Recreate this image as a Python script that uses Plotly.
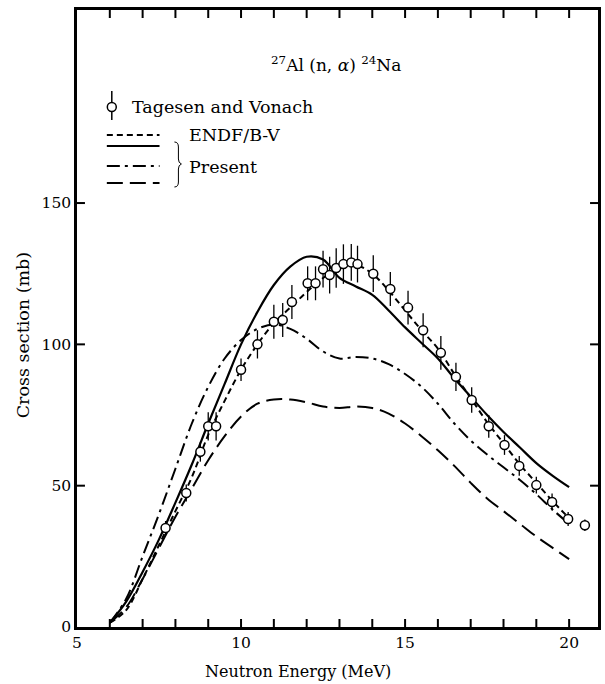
import plotly.graph_objects as go

# ---------------- data ----------------
energy_grid = [6.0, 6.5, 7.0, 7.5, 8.0, 8.5, 9.0, 9.5, 10.0, 10.5, 11.0, 11.5, 12.0, 12.5,
               13.0, 13.5, 14.0, 14.5, 15.0, 15.5, 16.0, 16.5, 17.0, 17.5, 18.0, 18.5,
               19.0, 19.5, 20.0]
endf_dashed = [1.5, 6, 17, 29, 41, 53, 68, 80, 91, 100, 107.5, 113, 118.5, 123.5,
               127, 128, 125, 119, 112, 105, 98.5, 89.5, 81, 72.5, 65, 57.5, 51, 44.5, 38.5]
present_solid = [1.5, 9, 19.5, 31, 44, 57.5, 72, 86, 100, 111.5, 121, 127.5, 131, 130,
                 123.5, 120.5, 117.5, 112, 106, 100.5, 95, 88, 81.5, 75, 69, 63.5, 58, 53.5, 49.5]
present_dashdot = [1.5, 10, 25, 40, 56, 72, 85, 95, 101.5, 105.5, 107, 105.5, 102, 97.5,
                   95, 95.5, 95, 93, 89.5, 85, 79, 72, 66, 61, 56.5, 52, 47, 41.5, 36.5]
present_longdash = [1.5, 7, 17, 28, 39, 49, 59, 67.5, 74.5, 79, 80.5, 80.5, 79.5, 78,
                    77.5, 78, 77.5, 75.5, 72, 67.5, 62.5, 57, 51, 45.5, 41, 36.5, 32, 28, 24]

exp_energy = [7.70, 8.33, 8.76, 9.00, 9.24, 10.00, 10.50, 11.00, 11.27, 11.55, 12.03, 12.27,
              12.50, 12.70, 12.90, 13.12, 13.36, 13.55, 14.03, 14.55, 15.09, 15.55, 16.09,
              16.55, 17.03, 17.55, 18.03, 18.48, 19.00, 19.48, 19.97, 20.48]
exp_sigma = [35, 47.4, 62, 71, 71, 91, 100, 108, 108.6, 115, 121.6, 121.6, 126.6, 124.5,
             127, 128.4, 129, 128.4, 125, 119.6, 113, 105, 97, 88.5, 80.3, 71, 64.4, 57,
             50.2, 44.2, 38.2, 36]
exp_error = [2.5, 3, 3.5, 5, 5, 4, 5, 6, 6, 6, 6, 6, 6.5, 6.5, 7, 7, 6.5, 6.5, 6.5, 6, 6,
             6, 6, 5, 4.5, 4, 3.5, 3.5, 3, 3, 2.5, 2]

x_tick_marks = list(range(6, 21))
y_tick_vals = [0, 50, 100, 150]

FONT = "DejaVu Serif"

# ---------------- figure ----------------
W, H = 605, 684
L, R, T, B = 77, 601, 10, 627


def px(x):
    return (x - L) / (R - L)


def py(y):
    return (B - y) / (B - T)


fig = go.Figure()

line_w = 2.0
fig.add_trace(go.Scatter(x=energy_grid, y=present_longdash, mode="lines",
                         line=dict(color="black", width=line_w, dash="16px,7px", shape="spline"),
                         showlegend=False))
fig.add_trace(go.Scatter(x=energy_grid, y=present_dashdot, mode="lines",
                         line=dict(color="black", width=line_w, dash="13px,5px,3px,5px", shape="spline"),
                         showlegend=False))
fig.add_trace(go.Scatter(x=energy_grid, y=present_solid, mode="lines",
                         line=dict(color="black", width=2.2, shape="spline"),
                         showlegend=False))
fig.add_trace(go.Scatter(x=energy_grid, y=endf_dashed, mode="lines",
                         line=dict(color="black", width=line_w, dash="6px,4px", shape="spline"),
                         showlegend=False))
fig.add_trace(go.Scatter(x=exp_energy, y=exp_sigma, mode="markers",
                         marker=dict(symbol="circle", size=9, color="white",
                                     line=dict(color="black", width=1.5)),
                         error_y=dict(type="data", array=exp_error, color="black",
                                      thickness=1.3, width=0),
                         showlegend=False))

shapes = []
# inward tick marks on all four sides
tick_len_x = 8 / (B - T)
tick_len_y = 8 / (R - L)
for e in x_tick_marks:
    shapes.append(dict(type="line", xref="x", yref="paper", x0=e, x1=e, y0=0, y1=tick_len_x,
                       line=dict(color="black", width=2)))
    shapes.append(dict(type="line", xref="x", yref="paper", x0=e, x1=e, y0=1, y1=1 - tick_len_x,
                       line=dict(color="black", width=2)))
for v in y_tick_vals[1:]:
    shapes.append(dict(type="line", xref="paper", yref="y", x0=0, x1=tick_len_y, y0=v, y1=v,
                       line=dict(color="black", width=2)))
    shapes.append(dict(type="line", xref="paper", yref="y", x0=1, x1=1 - tick_len_y, y0=v, y1=v,
                       line=dict(color="black", width=2)))

# legend samples
shapes.append(dict(type="line", xref="paper", yref="paper", x0=px(112), x1=px(112),
                   y0=py(91), y1=py(120), line=dict(color="black", width=1.5)))
shapes.append(dict(type="circle", xref="paper", yref="paper", x0=px(107.5), x1=px(116.5),
                   y0=py(111.5), y1=py(102.5), fillcolor="white",
                   line=dict(color="black", width=1.5)))
legend_lines = [(135, "6px,4px"), (146, "solid"), (166, "13px,5px,3px,5px"), (183, "16px,7px")]
for yy, dash in legend_lines:
    shapes.append(dict(type="line", xref="paper", yref="paper", x0=px(107), x1=px(160),
                       y0=py(yy), y1=py(yy), line=dict(color="black", width=2, dash=dash)))
# brace
path = "M {:.5f} {:.5f}".format(px(175), py(142))
path += " Q {:.5f} {:.5f} {:.5f} {:.5f}".format(px(179), py(142), px(179), py(147))
path += " L {:.5f} {:.5f}".format(px(179), py(159))
path += " Q {:.5f} {:.5f} {:.5f} {:.5f}".format(px(179), py(163), px(182), py(164))
path += " Q {:.5f} {:.5f} {:.5f} {:.5f}".format(px(179), py(165), px(179), py(169))
path += " L {:.5f} {:.5f}".format(px(179), py(182))
path += " Q {:.5f} {:.5f} {:.5f} {:.5f}".format(px(179), py(187), px(175), py(187))
shapes.append(dict(type="path", xref="paper", yref="paper", path=path,
                   line=dict(color="black", width=1)))

annotations = [
    dict(text="<sup>27</sup>Al (n, <i>α</i>) <sup>24</sup>Na", x=px(337), y=py(64),
         xref="paper", yref="paper", showarrow=False, xanchor="center", yanchor="middle",
         font=dict(family=FONT, size=17, color="black")),
    dict(text="Tagesen and Vonach", x=px(130), y=py(107), xref="paper", yref="paper",
         showarrow=False, xanchor="left", yanchor="middle",
         font=dict(family=FONT, size=17.5, color="black")),
    dict(text="ENDF/B-V", x=px(188), y=py(135), xref="paper", yref="paper",
         showarrow=False, xanchor="left", yanchor="middle",
         font=dict(family=FONT, size=17.5, color="black")),
    dict(text="Present", x=px(188), y=py(167), xref="paper", yref="paper",
         showarrow=False, xanchor="left", yanchor="middle",
         font=dict(family=FONT, size=17.5, color="black")),
    dict(text="Cross section (mb)", x=px(23), y=py(335), xref="paper", yref="paper",
         showarrow=False, xanchor="center", yanchor="middle", textangle=-90,
         font=dict(family=FONT, size=17.5, color="black")),
    dict(text="Neutron Energy (MeV)", x=px(299), y=py(671), xref="paper", yref="paper",
         showarrow=False, xanchor="center", yanchor="middle",
         font=dict(family=FONT, size=16, color="black")),
]

fig.update_layout(
    width=W, height=H,
    margin=dict(l=L, r=W - R, t=T, b=H - B, pad=0),
    paper_bgcolor="white", plot_bgcolor="white",
    shapes=shapes, annotations=annotations,
    showlegend=False,
    font=dict(family=FONT, size=15, color="black"),
)
fig.update_xaxes(range=[5, 20.88], showgrid=False, zeroline=False,
                 showline=True, linecolor="black", linewidth=2.5, mirror=True,
                 ticks="", tickvals=[5, 10, 15, 20], ticktext=["5", "10", "15", "20"],
                 tickfont=dict(family=FONT, size=15.5, color="black"))
fig.update_yaxes(range=[0, 218.3], showgrid=False, zeroline=False,
                 showline=True, linecolor="black", linewidth=2.5, mirror=True,
                 ticks="", tickvals=y_tick_vals, ticktext=[str(v) for v in y_tick_vals],
                 tickfont=dict(family=FONT, size=15.5, color="black"))

fig.write_html("out.html", config={"displayModeBar": False},
               post_script="document.body.style.margin='0';document.body.style.padding='0';")
